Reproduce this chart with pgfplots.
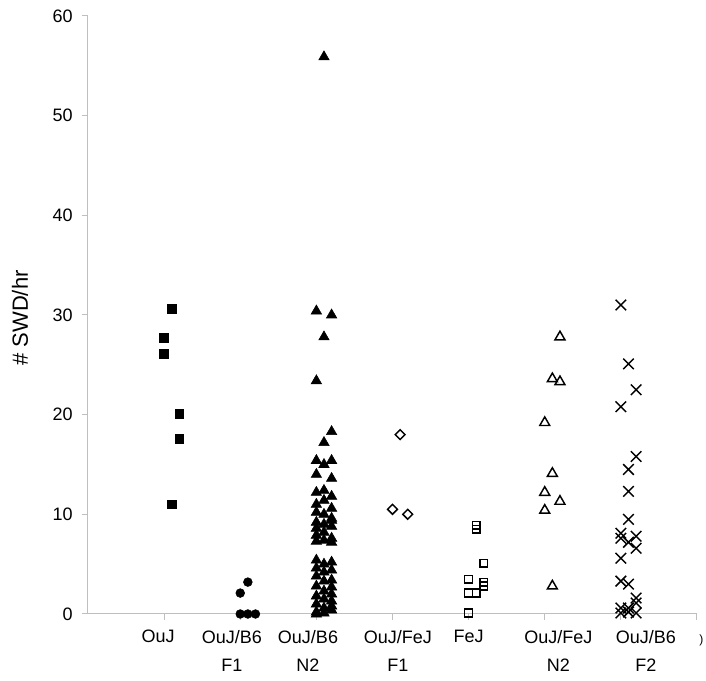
\documentclass[border=0pt]{standalone}
\usepackage{fontspec}
\setmainfont{Liberation Sans}
\usepackage{pgfplots}
\pgfplotsset{compat=1.18}
\begin{document}
\begin{tikzpicture}
\path (-66pt,-50.25pt) rectangle (463.5pt,460.5pt);
\begin{axis}[
  at={(0,0)}, anchor=origin,
  scale only axis, width=456.75pt, height=448.5pt,
  xmin=0, xmax=8, ymin=0, ymax=60,
  axis x line*=bottom, axis y line*=left,
  axis line style={draw=black!25, line width=0.75pt},
  clip=false,
  ytick={0,10,...,60},
  xtick={1,2,...,8}, xticklabels={},
  tick align=outside,
  major tick length=4.5pt,
  tick style={draw=black!25, line width=0.75pt},
  /pgf/number format/assume math mode=true,
  ticklabel style={font=\fontsize{13.5}{15}\selectfont},
  yticklabel style={xshift=-3.5pt},
  extra x ticks={0.92,1.89,2.89,4.07,5.0,6.18,7.33},
  extra x tick labels={OuJ,{OuJ/B6\\[6.5pt]F1},{OuJ/B6\\[6.5pt]N2},{OuJ/FeJ\\[6.5pt]F1},FeJ,{OuJ/FeJ\\[6.5pt]N2},{OuJ/B6\\[6.5pt]F2}},
  extra x tick style={major tick length=0pt, xticklabel style={align=center, anchor=north, yshift=-8.5pt}},
  ylabel={\# SWD/hr},
  ylabel style={font=\fontsize{16.5}{19}\selectfont, at={(axis description cs:-0.1117,0.495)}, anchor=center},
]
% OuJ
\addplot[only marks, mark=square*, mark size=3.3pt, mark options={fill=black, draw=black}] coordinates {
(1.0,27.7) (1.0,26.1) (1.1,30.6) (1.1,11.0) (1.2,20.1) (1.2,17.6)};
% OuJ/B6 F1
\addplot[only marks, mark=*, mark size=3.3pt, mark options={fill=black, draw=black}] coordinates {
(2.0,2.1) (2.1,3.2) (2.0,0) (2.1,0) (2.2,0)};
% OuJ/B6 N2
\addplot[only marks, mark=triangle*, mark size=4.5pt, mark options={fill=black, draw=black}] coordinates {
(3.1,55.9) (3.0,30.4) (3.2,30.0) (3.1,27.8) (3.0,23.4) (3.2,18.3) (3.1,17.2)
(3.0,15.4) (3.1,15.0) (3.2,15.4) (3.0,14.0) (3.2,13.6)
(3.0,12.2) (3.1,12.4) (3.2,11.8) (3.0,11.0) (3.1,11.4) (3.2,10.6)
(3.0,10.2) (3.1,10.0) (3.2,9.6) (3.0,9.2) (3.1,9.0) (3.2,9.4)
(3.0,8.6) (3.1,8.2) (3.2,8.8) (3.0,7.9) (3.0,7.3) (3.1,7.4) (3.2,7.2) (3.2,7.6)
(3.0,5.4) (3.1,5.0) (3.2,5.2) (3.0,4.6) (3.1,4.2) (3.2,4.4)
(3.0,3.8) (3.2,3.4) (3.1,3.3) (3.0,2.8) (3.2,2.7) (3.1,2.3) (3.2,2.0)
(3.0,1.8) (3.1,1.5) (3.2,1.3) (3.0,1.0) (3.2,0.8) (3.1,0.6) (3.2,0.4)
(3.0,0.2) (3.1,0.1) (3.0,0.0)};
% OuJ/FeJ F1
\addplot[only marks, mark=square, mark size=2.6pt, mark options={rotate=45, draw=black, line width=1.1pt}] coordinates {
(4.1,18.0) (4.0,10.5) (4.2,10.0)};
% FeJ
\addplot[only marks, mark=square, mark size=2.9pt, mark options={draw=black, line width=1.1pt}] coordinates {
(5.1,8.9) (5.1,8.5) (5.2,5.1) (5.0,3.5) (5.2,3.2) (5.2,2.8) (5.0,2.1) (5.1,2.1) (5.0,0.1)};
% OuJ/FeJ N2
\addplot[only marks, mark=triangle, mark size=4.3pt, mark options={draw=black, line width=1.1pt}] coordinates {
(6.2,27.8) (6.1,23.6) (6.2,23.3) (6.0,19.2) (6.1,14.1) (6.0,12.2) (6.2,11.3) (6.0,10.4) (6.1,2.8)};
% OuJ/B6 F2
\addplot[only marks, mark=x, mark size=5.6pt, mark options={draw=black, line width=1.1pt}] coordinates {
(7.0,31.0) (7.1,25.1) (7.2,22.5) (7.0,20.8) (7.2,15.8) (7.1,14.5) (7.1,12.3) (7.1,9.5)
(7.0,8.1) (7.2,7.8) (7.0,7.6) (7.1,7.2) (7.2,6.6) (7.0,5.6) (7.0,3.3) (7.1,3.0)
(7.2,1.6) (7.2,1.1) (7.0,0.6) (7.1,0.6) (7.0,0.1) (7.2,0.1) (7.1,0.2)};
\node[anchor=west, inner sep=0pt, font=\fontsize{9}{10}\selectfont] at (axis cs:8,0) [yshift=-19.5pt, xshift=1.5pt] {)};
\end{axis}
\end{tikzpicture}
\end{document}
